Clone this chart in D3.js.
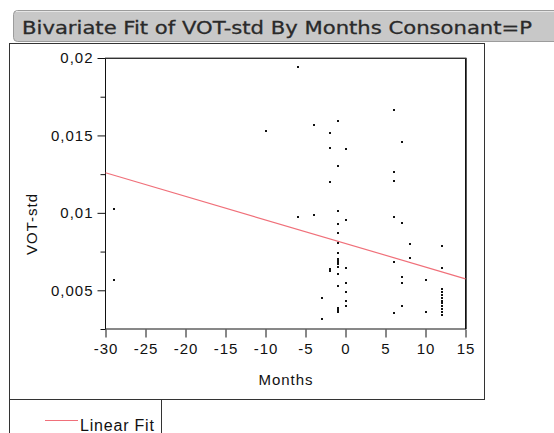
<!DOCTYPE html>
<html>
<head>
<meta charset="utf-8">
<script src="https://cdn.jsdelivr.net/npm/d3@7/dist/d3.min.js"></script>
<style>
  html, body { margin: 0; padding: 0; background: #fff; }
  svg { display: block; }
  text { font-family: "Liberation Sans", Arial, sans-serif; }
</style>
</head>
<body>
<svg id="chart" width="554" height="433"></svg>
<script>
// ---------- data ----------
const titleText = "Bivariate Fit of VOT-std By Months Consonant=P";
const xLabel = "Months";
const yLabel = "VOT-std";
const legendLabel = "Linear Fit";

const xTicks = [-30, -25, -20, -15, -10, -5, 0, 5, 10, 15];
const yTicks = [0.005, 0.01, 0.015, 0.02];
const yMinorTicks = [0.0025, 0.0075, 0.0125, 0.0175];

const months = [
  -29, -29,
  -10,
  -6, -6,
  -4, -4,
  -3, -3,
  -2, -2, -2, -2, -2,
  -1, -1, -1, -1, -1, -1, -1, -1, -1, -1, -1, -1, -1, -1, -1, -1, -1,
  0, 0, 0, 0, 0, 0, 0,
  6, 6, 6, 6, 6, 6,
  7, 7, 7, 7, 7,
  8, 8,
  10, 10,
  12, 12, 12, 12, 12, 12, 12, 12, 12, 12, 12, 12
];
const vot = [
  0.01023, 0.00566,
  0.01529,
  0.01944, 0.00975,
  0.01567, 0.00984,
  0.00450, 0.00313,
  0.01518, 0.01421, 0.01197, 0.00636, 0.00627,
  0.01595, 0.01305, 0.01014, 0.00926, 0.00868, 0.00807, 0.00743, 0.00702, 0.00691, 0.00681, 0.00672, 0.00652, 0.00605, 0.00528, 0.00384, 0.00373, 0.00362,
  0.01412, 0.00954, 0.00644, 0.00545, 0.00487, 0.00431, 0.00400,
  0.01664, 0.01266, 0.01208, 0.00975, 0.00685, 0.00351,
  0.01460, 0.00936, 0.00586, 0.00547, 0.00400,
  0.00799, 0.00710,
  0.00566, 0.00362,
  0.00788, 0.00644, 0.00510, 0.00491, 0.00472, 0.00453, 0.00434, 0.00415, 0.00396, 0.00377, 0.00358, 0.00339, 0.00320
];

// linear fit end points
const fitX = [-30, 15];
const fitY = [0.01259, 0.00574];

// ---------- drawing ----------
const svg = d3.select("#chart");

const x = d3.scaleLinear().domain([-30, 15]).range([105.5, 465.5]);
const y = d3.scaleLinear().domain([0.0025, 0.02]).range([329, 58]);

// title bar
svg.append("rect")
  .attr("x", 13.5).attr("y", 10.5).attr("width", 560).attr("height", 31)
  .attr("rx", 4).attr("fill", "#c8c8c8").attr("stroke", "#9c9c9c");
svg.append("line")
  .attr("x1", 16).attr("x2", 554).attr("y1", 11.5).attr("y2", 11.5)
  .attr("stroke", "#e6e6e6");
svg.append("text")
  .attr("x", 22).attr("y", 34)
  .attr("textLength", 510).attr("lengthAdjust", "spacingAndGlyphs")
  .style("font-family", "'DejaVu Sans', sans-serif")
  .style("font-size", "18px")
  .attr("fill", "#2a2a2a")
  .attr("stroke", "#2a2a2a").attr("stroke-width", 0.3)
  .text(titleText);

// outer report box
svg.append("rect")
  .attr("x", 9.5).attr("y", 43.5).attr("width", 475).attr("height", 356)
  .attr("fill", "none").attr("stroke", "#333");
// legend box
svg.append("path")
  .attr("d", "M9.5,400 V433 M161.5,400 V433")
  .attr("stroke", "#333").attr("fill", "none");

// plot frame
svg.append("rect")
  .attr("x", 105.5).attr("y", 58.5).attr("width", 360).attr("height", 270.5)
  .attr("fill", "none").attr("stroke", "#111");
svg.append("line")
  .attr("x1", 105).attr("x2", 466.5).attr("y1", 58).attr("y2", 58)
  .attr("stroke", "#555");
svg.append("line")
  .attr("x1", 466.5).attr("x2", 466.5).attr("y1", 58).attr("y2", 329)
  .attr("stroke", "#555");

// x axis
const xAxis = d3.axisBottom(x).tickValues(xTicks).tickSize(8).tickPadding(6)
  .tickFormat(d => String(d));
const gx = svg.append("g").attr("transform", "translate(0,329.5)").call(xAxis);
gx.select(".domain").remove();
gx.selectAll(".tick line").attr("stroke", "#111");
gx.selectAll(".tick text")
  .style("font-size", "15px").style("letter-spacing", "1px")
  .attr("fill", "#111");

// y axis (major)
const yAxis = d3.axisLeft(y).tickValues(yTicks).tickSize(8).tickPadding(4)
  .tickFormat(d => String(d).replace(".", ","));
const gy = svg.append("g").attr("transform", "translate(105.5,0)").call(yAxis);
gy.select(".domain").remove();
gy.selectAll(".tick line").attr("stroke", "#111");
gy.selectAll(".tick text")
  .style("font-size", "15px").style("letter-spacing", "1px")
  .attr("fill", "#111");

// y axis (minor)
const gyMinor = svg.append("g").attr("transform", "translate(105.5,0)")
  .call(d3.axisLeft(y).tickValues(yMinorTicks).tickSize(5).tickFormat(""));
gyMinor.select(".domain").remove();
gyMinor.selectAll(".tick line").attr("stroke", "#111");

// axis titles
svg.append("text")
  .attr("x", 286).attr("y", 385)
  .attr("text-anchor", "middle")
  .style("font-size", "15px").style("letter-spacing", "1px")
  .attr("fill", "#111")
  .text(xLabel);
svg.append("text")
  .attr("transform", "translate(37,224) rotate(-90)")
  .attr("text-anchor", "middle")
  .style("font-size", "15px").style("letter-spacing", "1px")
  .attr("fill", "#111")
  .text(yLabel);

// fit line
svg.append("line")
  .attr("x1", x(fitX[0])).attr("y1", y(fitY[0]))
  .attr("x2", x(fitX[1])).attr("y2", y(fitY[1]))
  .attr("stroke", "#f0707a").attr("stroke-width", 1.2);

// points
const pts = months.map((m, i) => ({ m, v: vot[i] }));
svg.append("g").selectAll("rect").data(pts).join("rect")
  .attr("x", d => Math.round(x(d.m)) - 1)
  .attr("y", d => Math.round(y(d.v)) - 1)
  .attr("width", 2).attr("height", 2)
  .attr("fill", "#111");

// legend
svg.append("line")
  .attr("x1", 45).attr("x2", 78).attr("y1", 420.5).attr("y2", 420.5)
  .attr("stroke", "#f0707a").attr("stroke-width", 1.2);
svg.append("text")
  .attr("x", 80).attr("y", 431)
  .style("font-size", "16px").style("letter-spacing", "0.8px")
  .attr("fill", "#111")
  .text(legendLabel);
</script>
</body>
</html>
